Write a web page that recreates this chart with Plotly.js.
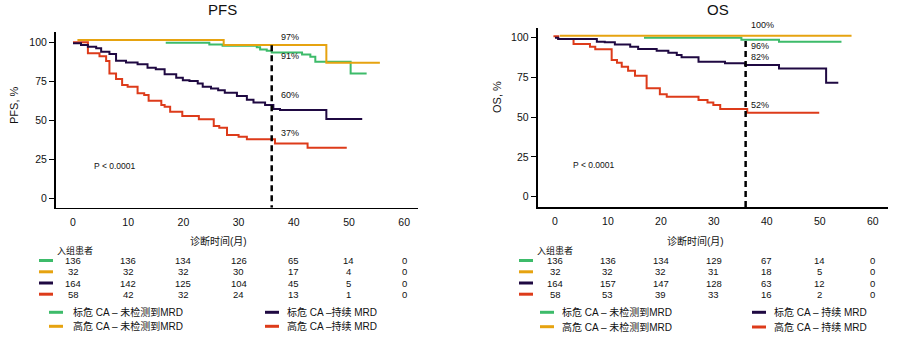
<!DOCTYPE html>
<html><head><meta charset="utf-8">
<script src="https://cdn.plot.ly/plotly-3.0.1.min.js"></script>
<style>html,body{margin:0;padding:0;background:#fff}#c{width:903px;height:341px}</style>
</head><body><div id="c"></div>
<script>
// ---- data ----
const groupNames = ['标危 CA – 未检测到MRD', '高危 CA – 未检测到MRD', '标危 CA –持续 MRD', '高危 CA –持续 MRD'];
const groupNamesOS = ['标危 CA – 未检测到MRD', '高危 CA – 未检测到MRD', '标危 CA – 持续 MRD', '高危 CA – 持续 MRD'];
const colors = ['#3dbb6a', '#e6a310', '#1f0942', '#dd3b1a'];

const pfsGreenT = [16.8, 24.7, 27.1, 33.3, 33.9, 35.1, 36.0, 41.5, 43.0, 43.9, 50.3, 53.2];
const pfsGreenV = [99.6, 98.5, 97.6, 96.6, 95.3, 94.5, 93.4, 92.1, 90.6, 87.4, 80.0, 80.0];
const pfsOrangeT = [0.8, 27.3, 45.9, 55.6];
const pfsOrangeV = [101.3, 98.1, 86.8, 86.8];
const pfsPurpleT = [0, 1.45, 2.7, 4.2, 5.1, 6.6, 7.8, 9.6, 11.7, 13.5, 15.0, 16.6, 18.7, 19.9, 21.1, 22.6, 23.5, 25.0, 26.3, 27.5, 29.7, 31.5, 32.7, 34.8, 36.3, 37.5, 45.9, 52.4];
const pfsPurpleV = [99.2, 98.1, 97.0, 96.0, 93.8, 92.3, 88.0, 87.0, 85.8, 83.6, 82.6, 79.4, 77.2, 75.7, 75.1, 73.6, 71.5, 70.4, 69.3, 67.6, 65.6, 63.2, 61.4, 59.8, 57.2, 56.6, 50.9, 50.9];
const pfsRedT = [0, 2.7, 4.8, 6.0, 6.6, 7.8, 8.9, 9.9, 11.7, 12.9, 13.7, 16.0, 16.6, 17.6, 19.8, 22.8, 25.5, 26.5, 27.9, 30.0, 31.5, 36.6, 42.5, 49.6];
const pfsRedV = [99.8, 92.8, 91.0, 87.9, 80.0, 76.4, 72.6, 71.5, 67.3, 66.2, 62.5, 59.8, 58.7, 55.5, 52.8, 50.7, 46.4, 45.3, 40.7, 39.6, 37.9, 35.3, 32.6, 32.6];

const osGreenT = [16.8, 35.2, 42.3, 54.1];
const osGreenV = [100, 98.7, 97.5, 97.5];
const osOrangeT = [0.9, 56];
const osOrangeV = [101.3, 101.3];
const osPurpleT = [0, 0.6, 7.9, 9.4, 11.3, 14.2, 15.7, 19.2, 21.4, 23.0, 23.9, 27.1, 32.1, 35.9, 42.3, 51.2, 53.5];
const osPurpleV = [100, 99.2, 97.5, 97.1, 95.8, 94.3, 92.9, 91.8, 90.6, 89.1, 87.7, 84.9, 83.9, 82.8, 80.7, 71.7, 71.7];
const osRedT = [-0.3, 0.6, 3.5, 6.6, 7.6, 10.7, 11.7, 12.6, 13.8, 15.1, 17.3, 19.8, 21.1, 27.1, 28.8, 29.9, 31.2, 36.3, 49.9];
const osRedV = [101.0, 99.2, 96.0, 94.3, 92.7, 86.0, 84.3, 81.8, 79.2, 76.1, 68.2, 64.4, 62.9, 60.8, 59.3, 57.7, 55.2, 52.8, 52.8];

const cutoffMonth = 36;
const pfsCutLabels = ['97%', '91%', '60%', '37%'];
const pfsCutLabelV = [103.5, 91.0, 66.5, 42.0];
const osCutLabels = ['100%', '96%', '82%', '52%'];
const osCutLabelV = [107.8, 95.0, 88.0, 57.5];

const riskTimes = [0, 10, 20, 30, 40, 50, 60];
const pfsRisk = [
  [136, 136, 134, 126, 65, 14, 0],
  [32, 32, 32, 30, 17, 4, 0],
  [164, 142, 125, 104, 45, 5, 0],
  [58, 42, 32, 24, 13, 1, 0]
];
const osRisk = [
  [136, 136, 134, 129, 67, 14, 0],
  [32, 32, 32, 31, 18, 5, 0],
  [164, 157, 147, 128, 63, 12, 0],
  [58, 53, 39, 33, 16, 2, 0]
];
const yTicks = [0, 25, 50, 75, 100];
const xTicks = [0, 10, 20, 30, 40, 50, 60];

// ---- build ----
const W = 903, H = 341;
const px = x => x / W, py = y => 1 - y / H;
const FONT = '"Liberation Sans", Arial, "Noto Sans CJK SC", sans-serif';

const pfsSeries = [[pfsGreenT, pfsGreenV], [pfsOrangeT, pfsOrangeV], [pfsPurpleT, pfsPurpleV], [pfsRedT, pfsRedV]];
const osSeries = [[osGreenT, osGreenV], [osOrangeT, osOrangeV], [osPurpleT, osPurpleV], [osRedT, osRedV]];
const drawOrder = [3, 2, 0, 1];

const traces = [];
drawOrder.forEach(i => traces.push({x: pfsSeries[i][0], y: pfsSeries[i][1], xaxis: 'x', yaxis: 'y', mode: 'lines', line: {color: colors[i], width: 2, shape: 'hv'}, showlegend: false, hoverinfo: 'skip', cliponaxis: false}));
drawOrder.forEach(i => traces.push({x: osSeries[i][0], y: osSeries[i][1], xaxis: 'x2', yaxis: 'y2', mode: 'lines', line: {color: colors[i], width: 2, shape: 'hv'}, showlegend: false, hoverinfo: 'skip', cliponaxis: false}));
traces.push({x: [cutoffMonth, cutoffMonth], y: [98, -5.7], xaxis: 'x', yaxis: 'y', mode: 'lines', line: {color: '#000', width: 2.5, dash: '6px,4px'}, showlegend: false, hoverinfo: 'skip'});
traces.push({x: [cutoffMonth, cutoffMonth], y: [98, -6.7], xaxis: 'x2', yaxis: 'y2', mode: 'lines', line: {color: '#000', width: 2.5, dash: '6px,4px'}, showlegend: false, hoverinfo: 'skip'});

const annotations = [];
const shapes = [];
function ann(text, x, y, o) {
  annotations.push(Object.assign({text: text, x: px(x), y: py(y), xref: 'paper', yref: 'paper', showarrow: false, xanchor: 'center', yanchor: 'middle', font: {family: FONT, size: 10, color: '#111'}}, o || {}));
}
function seg(x0, x1, y, color) {
  shapes.push({type: 'line', xref: 'paper', yref: 'paper', x0: px(x0), x1: px(x1), y0: py(y), y1: py(y), line: {color: color, width: 3}});
}

// titles
ann('PFS', 222, 10, {font: {family: FONT, size: 15, color: '#111'}});
ann('OS', 718, 10, {font: {family: FONT, size: 15, color: '#111'}});
ann('PFS, %', 14, 105, {textangle: -90, font: {family: FONT, size: 11, color: '#111'}});
ann('OS, %', 497, 97, {textangle: -90, font: {family: FONT, size: 11, color: '#111'}});
ann('诊断时间(月)', 218, 241, {font: {family: FONT, size: 10, color: '#111'}});
ann('诊断时间(月)', 695, 241, {font: {family: FONT, size: 10, color: '#111'}});

// percent labels at cutoff (y converted to paper so labels above the range still show)
const yToPaper = (v, lo, hi, d0, d1) => d0 + (v - lo) / (hi - lo) * (d1 - d0);
const pfsDom = [1 - 207.7 / H, 1 - 31.7 / H], pfsRange = [-5.7, 106.6];
const osDom = [1 - 207.3 / H, 1 - 27.7 / H], osRange = [-6.67, 106.3];
pfsCutLabels.forEach((t, i) => annotations.push({text: t, x: cutoffMonth + 1.3, y: yToPaper(pfsCutLabelV[i], pfsRange[0], pfsRange[1], pfsDom[0], pfsDom[1]), xref: 'x', yref: 'paper', xanchor: 'left', yanchor: 'middle', showarrow: false, font: {family: FONT, size: 9, color: '#111'}}));
osCutLabels.forEach((t, i) => annotations.push({text: t, x: cutoffMonth + 0.6, y: yToPaper(osCutLabelV[i], osRange[0], osRange[1], osDom[0], osDom[1]), xref: 'x2', yref: 'paper', xanchor: 'left', yanchor: 'middle', showarrow: false, font: {family: FONT, size: 9, color: '#111'}}));
annotations.push({text: 'P &lt; 0.0001', x: 3.5, y: 20.9, xref: 'x', yref: 'y', xanchor: 'left', yanchor: 'middle', showarrow: false, font: {family: FONT, size: 8.5, color: '#111'}});
annotations.push({text: 'P &lt; 0.0001', x: 3.1, y: 20.2, xref: 'x2', yref: 'y2', xanchor: 'left', yanchor: 'middle', showarrow: false, font: {family: FONT, size: 8.5, color: '#111'}});

// risk tables
ann('入组患者', 75, 250, {font: {family: FONT, size: 9, color: '#111'}});
ann('入组患者', 555, 250.5, {font: {family: FONT, size: 9, color: '#111'}});
const rowY = [260.5, 271.8, 283, 294.2];
[[pfsRisk, 'x', 39, 53], [osRisk, 'x2', 519, 533]].forEach(([tab, xr, m0, m1]) => {
  tab.forEach((row, r) => {
    seg(m0, m1, rowY[r], colors[r]);
    row.forEach((v, c) => annotations.push({text: String(v), x: riskTimes[c], y: py(rowY[r]), xref: xr, yref: 'paper', xanchor: 'center', yanchor: 'middle', showarrow: false, font: {family: FONT, size: 9.5, color: '#111'}}));
  });
});

// legends
const legPos = [
  [[49, 63, 71, 312.3, groupNames[0]], [49, 63, 71, 326.3, groupNames[1]], [265, 279, 285, 312.3, groupNames[2]], [265, 279, 285, 326.3, groupNames[3]]],
  [[540, 554, 560, 312.3, groupNamesOS[0]], [540, 554, 560, 326.7, groupNamesOS[1]], [752, 766, 772, 312.3, groupNamesOS[2]], [752, 766, 772, 327, groupNamesOS[3]]]
];
legPos.forEach(list => list.forEach((p, i) => {
  seg(p[0], p[1], p[3], colors[i]);
  ann(p[4], p[2], p[3], {xanchor: 'left', font: {family: FONT, size: 10, color: '#111'}});
}));

const axCommon = {showgrid: false, zeroline: false, showline: true, linecolor: '#000', tickfont: {family: FONT, size: 10.5, color: '#111'}, fixedrange: true};
const layout = {
  width: W, height: H,
  margin: {l: 0, r: 0, t: 0, b: 0},
  paper_bgcolor: '#fff', plot_bgcolor: '#fff',
  showlegend: false,
  xaxis: Object.assign({}, axCommon, {domain: [px(56), px(417.7)], range: [-3.08, 62.45], tickvals: xTicks, ticks: 'outside', ticklen: 4, tickcolor: 'rgba(0,0,0,0)', linewidth: 1.5, anchor: 'y'}),
  yaxis: Object.assign({}, axCommon, {domain: pfsDom, range: pfsRange, tickvals: yTicks, ticks: 'outside', ticklen: 5, tickwidth: 1, tickcolor: '#000', linewidth: 2, anchor: 'x'}),
  xaxis2: Object.assign({}, axCommon, {domain: [px(537.7), px(887.7)], range: [-3.27, 62.83], tickvals: xTicks, ticks: 'outside', ticklen: 4, tickcolor: 'rgba(0,0,0,0)', linewidth: 1.5, anchor: 'y2'}),
  yaxis2: Object.assign({}, axCommon, {domain: osDom, range: osRange, tickvals: yTicks, ticks: 'outside', ticklen: 5, tickwidth: 1, tickcolor: '#000', linewidth: 2, anchor: 'x2'}),
  annotations: annotations,
  shapes: shapes
};
Plotly.newPlot('c', traces, layout, {staticPlot: true, displayModeBar: false});
</script>
</body></html>
